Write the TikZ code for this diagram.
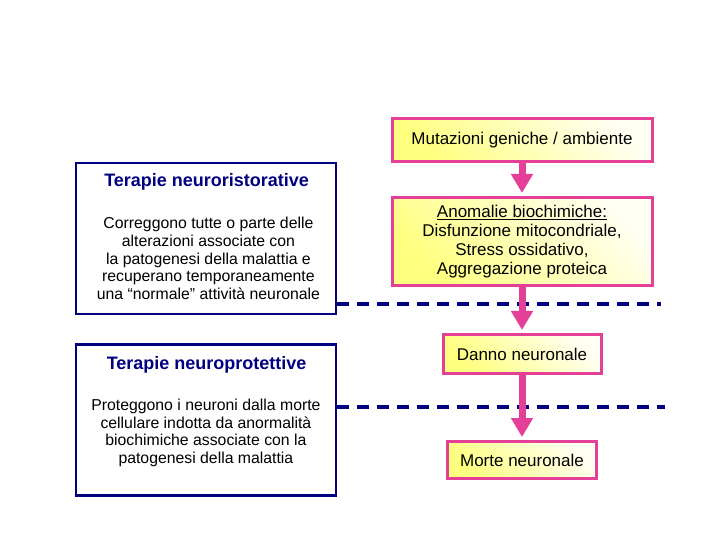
\documentclass[tikz,border=0pt]{standalone}
\usepackage{fontspec}
\setmainfont{Liberation Sans}
\usetikzlibrary{arrows.meta}
\definecolor{navyline}{RGB}{0,0,128}
\definecolor{pinkline}{RGB}{228,64,152}
\tikzset{
  therapy/.style={draw=navyline, line width=2.5bp, minimum width=260bp, minimum height=151bp, inner sep=0pt},
  therapytitle/.style={text=navyline, font=\fontsize{18bp}{20bp}\selectfont\bfseries},
  therapytext/.style={align=center, font=\fontsize{15.8bp}{17.7bp}\selectfont},
  cascade/.style={draw=pinkline, line width=3bp, top color=yellow!5, bottom color=yellow!50, shading angle=-45, align=center, inner sep=0pt, font=\fontsize{17bp}{19bp}\selectfont},
  cutline/.style={navyline, line width=4bp, dash pattern=on 12bp off 8bp},
  flowarrow/.style={pinkline, line width=7bp, -{Triangle[width=21bp,length=19bp]}, shorten >=3bp}
}
\begin{document}
\begin{tikzpicture}[x=36bp,y=36bp]
\useasboundingbox (0,0) rectangle (20,15);
% therapies
\node[therapy] (restore) at (5.72,8.375) {};
\node[therapytitle] (restoretitle) at (5.74,9.944) {Terapie neuroristorative};
\node[therapytext] (restoretext) at (5.79,7.82) {Correggono tutte o parte delle\\alterazioni associate con\\la patogenesi della malattia e\\recuperano temporaneamente\\una “normale” attività neuronale};
\node[therapy] (protect) at (5.72,3.333) {};
\node[therapytitle] (protecttitle) at (5.74,4.861) {Terapie neuroprotettive};
\node[therapytext] (protecttext) at (5.72,2.972) {Proteggono i neuroni dalla morte\\cellulare indotta da anormalità\\biochimiche associate con la\\patogenesi della malattia};
% cascade
\node[cascade, minimum width=260bp, minimum height=43bp] (genes) at (14.5,11.111) {Mutazioni geniche / ambiente};
\node[cascade, minimum width=260bp, minimum height=88bp] (biochem) at (14.5,8.292) {\underline{Anomalie biochimiche:}\\Disfunzione mitocondriale,\\Stress ossidativo,\\Aggregazione proteica};
\node[cascade, minimum width=158bp, minimum height=39bp] (damage) at (14.5,5.167) {Danno neuronale};
\node[cascade, minimum width=149bp, minimum height=37bp] (death) at (14.5,2.222) {Morte neuronale};
% levels
\coordinate (cut1) at (18.36,6.556);
\coordinate (cut2) at (18.47,3.694);
\draw[cutline] (restore.east |- cut1) -- (cut1);
\draw[cutline] (protect.east |- cut2) -- (cut2);
\draw[flowarrow] (genes) -- (biochem);
\draw[flowarrow] (biochem) -- (damage);
\draw[flowarrow] (damage) -- (death);
\end{tikzpicture}
\end{document}
